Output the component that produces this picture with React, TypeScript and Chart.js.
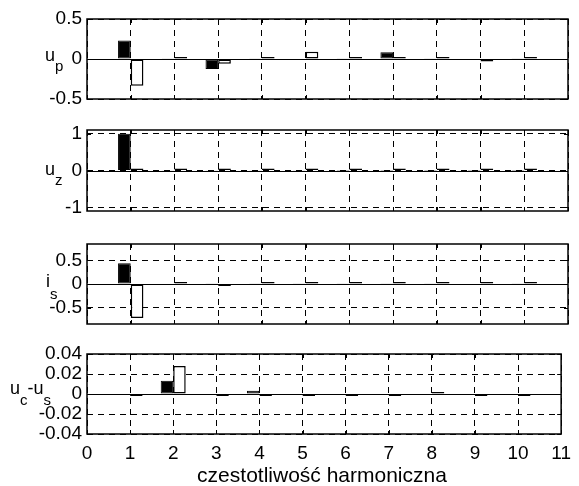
import React, { useEffect, useRef } from "react";
import { Chart, registerables } from "chart.js";
Chart.register(...registerables);

const harmonics = [1, 2, 3, 4, 5, 6, 7, 8, 9, 10];
const xTickValues = [0, 1, 2, 3, 4, 5, 6, 7, 8, 9, 10, 11];

const upBlack = [0.23, 0.003, -0.125, 0.003, 0.005, 0.003, 0.085, 0.003, -0.005, 0.003];
const upWhite = [-0.335, 0.012, -0.06, 0.01, 0.09, 0.012, 0.005, 0.012, -0.03, 0.01];
const uzBlack = [1.0, 0.005, 0.005, 0.005, 0.005, 0.003, 0.003, 0.003, 0.003, 0.003];
const uzWhite = [0.012, 0.01, 0.01, 0.01, 0.008, 0.008, 0.008, 0.008, 0.008, 0.008];
const isBlack = [0.44, 0.008, 0.005, 0.003, 0.003, 0.003, 0.015, 0.003, 0.012, 0.003];
const isWhite = [-0.72, 0.02, -0.015, 0.02, 0.022, 0.02, 0.02, 0.02, 0.02, 0.02];
const ucBlack = [0, 0.0133, 0, 0.0033, 0, 0, 0, 0.0005, 0, 0];
const ucWhite = [-0.0008, 0.028, -0.001, -0.0015, -0.001, -0.001, -0.001, 0.001, -0.001, -0.001];

const upTicks = [-0.5, 0, 0.5];
const uzTicks = [-1, 0, 1];
const isTicks = [-0.5, 0, 0.5];
const ucTicks = [-0.04, -0.02, 0, 0.02, 0.04];

const xTitle = "czestotliwość harmoniczna";

const FONT = "'Liberation Sans', Arial, Helvetica, sans-serif";
const W = 579;
const H = 486;

type Part = [string, boolean];
type Panel = {
  black: number[];
  white: number[];
  ticks: number[];
  range: number;
  top: number;
  bottom: number;
  label: Part[];
  labelX: number;
  labelY: number;
  subDy: number;
  showX: boolean;
};

const panels: Panel[] = [
  { black: upBlack, white: upWhite, ticks: upTicks, range: 0.5, top: 19, bottom: 99, label: [["u", false], ["p", true]], labelX: 45, labelY: 61, subDy: 10, showX: false },
  { black: uzBlack, white: uzWhite, ticks: uzTicks, range: 1.1, top: 130, bottom: 211, label: [["u", false], ["z", true]], labelX: 45, labelY: 175, subDy: 10, showX: false },
  { black: isBlack, white: isWhite, ticks: isTicks, range: 0.85, top: 244, bottom: 324, label: [["i", false], ["s", true]], labelX: 46, labelY: 287, subDy: 12, showX: false },
  { black: ucBlack, white: ucWhite, ticks: ucTicks, range: 0.04, top: 354, bottom: 434, label: [["u", false], ["c", true], ["-u", false], ["s", true]], labelX: 10, labelY: 394, subDy: 11, showX: true },
];

function makeDecor(p: Panel) {
  return {
    id: "decor",
    beforeDatasetsDraw(chart: any) {
      const { ctx, chartArea } = chart;
      const y0 = Math.round(chart.scales.y.getPixelForValue(0)) + 0.5;
      ctx.save();
      ctx.strokeStyle = "#000";
      ctx.lineWidth = 1;
      ctx.setLineDash([]);
      ctx.beginPath();
      ctx.moveTo(chartArea.left, y0);
      ctx.lineTo(chartArea.right, y0);
      ctx.stroke();
      ctx.restore();
    },
    afterDraw(chart: any) {
      const { ctx, chartArea } = chart;
      const { left, right, top, bottom } = chartArea;
      ctx.save();
      ctx.setLineDash([]);
      ctx.strokeStyle = "#000";
      ctx.lineWidth = 1;
      ctx.beginPath();
      for (const v of xTickValues) {
        const x = Math.round(chart.scales.x.getPixelForValue(v)) + 0.5;
        ctx.moveTo(x, bottom);
        ctx.lineTo(x, bottom - 4);
        ctx.moveTo(x, top);
        ctx.lineTo(x, top + 4);
      }
      for (const v of p.ticks) {
        const y = Math.round(chart.scales.y.getPixelForValue(v)) + 0.5;
        ctx.moveTo(left, y);
        ctx.lineTo(left + 4, y);
        ctx.moveTo(right, y);
        ctx.lineTo(right - 4, y);
      }
      ctx.stroke();
      ctx.lineWidth = 1.5;
      ctx.strokeRect(left, top, right - left, bottom - top);
      ctx.fillStyle = "#000";
      ctx.textBaseline = "alphabetic";
      ctx.textAlign = "left";
      let x = p.labelX;
      for (const [t, sub] of p.label) {
        ctx.font = (sub ? "15px " : "18px ") + FONT;
        ctx.fillText(t, x, sub ? p.labelY + p.subDy : p.labelY);
        x += ctx.measureText(t).width;
      }
      if (p.showX) {
        ctx.font = "21px " + FONT;
        ctx.textAlign = "center";
        ctx.fillText(xTitle, 322, 482);
      }
      ctx.restore();
    },
  };
}

function PanelChart({ p }: { p: Panel }) {
  const ref = useRef<HTMLCanvasElement | null>(null);
  useEffect(() => {
    if (!ref.current) return;
    const whiteFill = p.white.map((v) => (Math.abs(v) / p.range < 0.045 ? "#000" : "#fff"));
    const chart = new Chart(ref.current, {
      type: "bar",
      data: {
        datasets: [
          {
            data: harmonics.map((h, i) => ({ x: h, y: p.black[i] })),
            backgroundColor: "#000",
            borderColor: "#000",
            borderWidth: 1,
            borderSkipped: false,
          },
          {
            data: harmonics.map((h, i) => ({ x: h, y: p.white[i] })),
            backgroundColor: whiteFill,
            borderColor: "#000",
            borderWidth: 1.5,
            borderSkipped: false,
            minBarLength: 2,
          },
        ],
      },
      options: {
        animation: false,
        responsive: false,
        maintainAspectRatio: false,
        events: [],
        categoryPercentage: 0.58,
        barPercentage: 1,
        layout: {
          padding: { left: 0, right: W - 568, top: p.top, bottom: p.showX ? 0 : H - p.bottom },
        },
        plugins: {
          legend: { display: false },
          tooltip: { enabled: false },
          title: { display: false },
        },
        scales: {
          x: {
            type: "linear",
            min: 0,
            max: 11,
            offset: false,
            afterBuildTicks: (s: any) => {
              s.ticks = xTickValues.map((v) => ({ value: v }));
            },
            afterFit: (s: any) => {
              s.height = p.showX ? H - p.bottom : 0;
            },
            ticks: {
              display: p.showX,
              font: { family: FONT, size: 19 },
              color: "#000",
              padding: 8,
              maxRotation: 0,
              autoSkip: false,
              callback: (v: any) => String(v),
            },
            grid: { color: "#000", lineWidth: 1, drawTicks: false, offset: false },
            border: { display: false, dash: [6, 5] },
          },
          y: {
            type: "linear",
            min: -p.range,
            max: p.range,
            afterBuildTicks: (s: any) => {
              s.ticks = p.ticks.map((v) => ({ value: v }));
            },
            afterFit: (s: any) => {
              s.width = 87;
            },
            ticks: {
              font: { family: FONT, size: 19 },
              color: "#000",
              padding: 5,
              autoSkip: false,
              callback: (v: any) => String(v),
            },
            grid: { color: "#000", lineWidth: 1, drawTicks: false },
            border: { display: false, dash: [6, 5] },
          },
        },
      },
      plugins: [makeDecor(p)],
    } as any);
    return () => chart.destroy();
  }, [p]);
  return (
    <canvas
      ref={ref}
      width={W}
      height={H}
      style={{ position: "absolute", left: 0, top: 0, width: W, height: H }}
    />
  );
}

export default function App() {
  return (
    <div style={{ position: "absolute", left: 0, top: 0, width: W, height: H, background: "#fff" }}>
      {panels.map((p, i) => (
        <PanelChart key={i} p={p} />
      ))}
    </div>
  );
}
